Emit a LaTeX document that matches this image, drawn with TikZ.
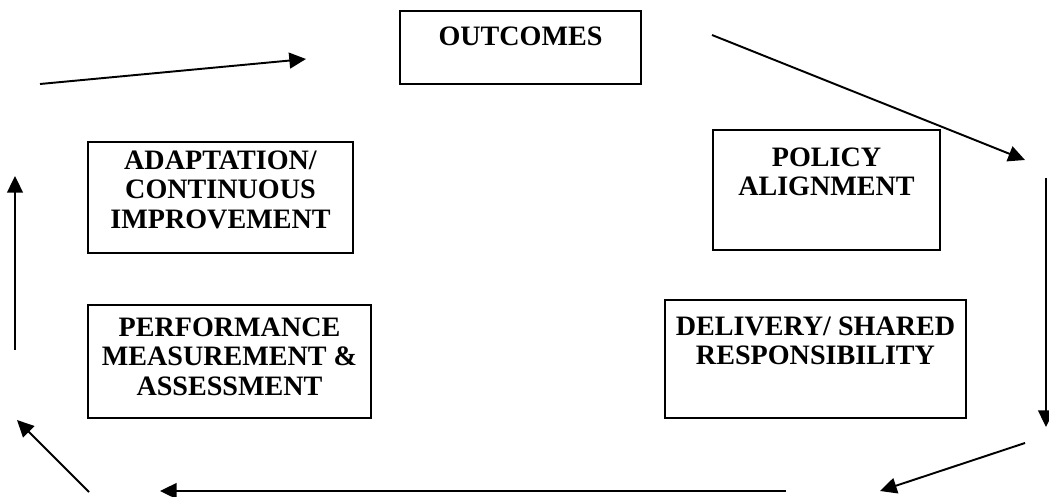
\documentclass[tikz,border=0pt]{standalone}
\usepackage{fontspec}
\setmainfont{Liberation Serif}
\usepackage{tikz}
\usetikzlibrary{arrows.meta}
\usetikzlibrary{positioning}

\begin{document}
\begin{tikzpicture}[x=0.02cm,y=-0.02cm,
  box/.style={draw,line width=1.1pt,inner sep=0pt},
  boxtext/.style={anchor=north,align=center,inner sep=0pt,font=\fontsize{16}{16.8}\selectfont\bfseries},
  cyc/.style={line width=1.1pt,-{Triangle[length=9.5pt,width=9pt]}}]
\useasboundingbox (0,0) rectangle (1049,497);
% boxes
\node[box,minimum width=4.82cm,minimum height=1.46cm] (outc) at (520.5,47.5) {};
\node[box,minimum width=5.30cm,minimum height=2.22cm] (adapt) at (220.5,197.5) {};
\node[box,minimum width=4.54cm,minimum height=2.40cm] (policy) at (826.5,190) {};
\node[box,minimum width=5.66cm,minimum height=2.26cm] (perf) at (229.5,361.5) {};
\node[box,minimum width=6.02cm,minimum height=2.36cm] (deliv) at (815.5,359) {};
% texts
\node[boxtext,below=0.32cm of outc.north] (toutc) {OUTCOMES};
\node[boxtext,below=0.18cm of adapt.north] (tadapt) {ADAPTATION/\\CONTINUOUS\\IMPROVEMENT};
\node[boxtext,below=0.36cm of policy.north] (tpolicy) {POLICY\\ALIGNMENT};
\node[boxtext,below=0.26cm of perf.north] (tperf) {PERFORMANCE\\MEASUREMENT \&\\ASSESSMENT};
\node[boxtext,below=0.34cm of deliv.north] (tdeliv) {DELIVERY/ SHARED\\RESPONSIBILITY};
% arrow ends
\coordinate (a1) at (40,84);   \coordinate (b1) at (306,59);
\coordinate (a2) at (712,35);  \coordinate (b2) at (1025,160);
\coordinate (a3) at (1046,178);\coordinate (b3) at (1046,427);
\coordinate (a4) at (1025,443);\coordinate (b4) at (880,491);
\coordinate (a5) at (786,491); \coordinate (b5) at (160,491);
\coordinate (a6) at (89,492);  \coordinate (b6) at (17,420);
\coordinate (a7) at (15,350);  \coordinate (b7) at (15,176);
% cycle
\foreach \i in {1,...,7}
  \draw[cyc] (a\i) -- (b\i);
\end{tikzpicture}
\end{document}
